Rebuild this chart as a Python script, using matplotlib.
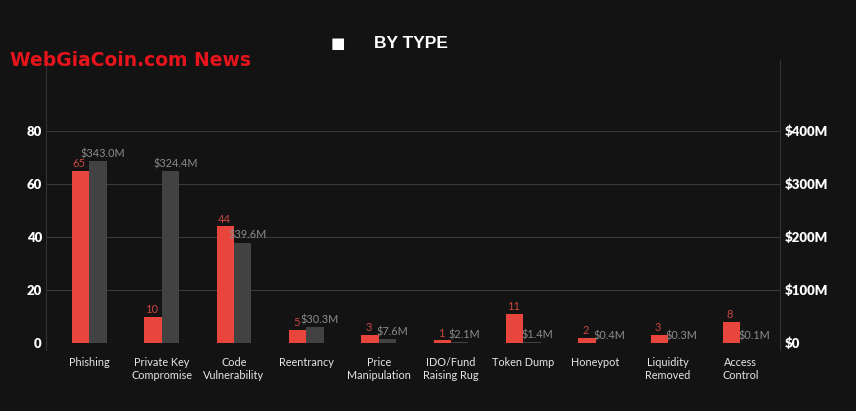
import numpy as np
import matplotlib.pyplot as plt
from matplotlib.lines import Line2D

# data
categories = ['Phishing', 'Private Key\nCompromise', 'Code\nVulnerability', 'Reentrancy',
              'Price\nManipulation', 'IDO/Fund\nRaising Rug', 'Token Dump', 'Honeypot',
              'Liquidity\nRemoved', 'Access\nControl']
counts = [65, 10, 44, 5, 3, 1, 11, 2, 3, 8]
amounts = [343.0, 324.4, 189.6, 30.3, 7.6, 2.1, 1.4, 0.4, 0.3, 0.1]
amount_labels = ['$343.0M', '$324.4M', '$39.6M', '$30.3M', '$7.6M',
                 '$2.1M', '$1.4M', '$0.4M', '$0.3M', '$0.1M']
left_ticks = [0, 20, 40, 60, 80]
right_ticks = [0, 100, 200, 300, 400]
right_tick_labels = ['$0', '$100M', '$200M', '$300M', '$400M']

BG = '#131313'
RED = '#e8453c'
GRAY = '#424242'

plt.rcParams['font.family'] = ['Lato', 'DejaVu Sans']

fig = plt.figure(figsize=(8.56, 4.11), dpi=100, facecolor=BG)
ax = fig.add_axes([46 / 856, 1 - 343 / 411, (780 - 46) / 856, (343 - 131) / 411])
ax.set_facecolor(BG)
ax2 = ax.twinx()

x = np.arange(len(categories))
w = 0.24
ax.bar(x - w / 2, counts, w, color=RED, zorder=3)
ax2.bar(x + w / 2, amounts, w, color=GRAY, zorder=3)

ax.set_xlim(-0.6, 9.55)
ax.set_ylim(0, 80)
ax2.set_ylim(0, 400)

for xi, c in zip(x, counts):
    ax.text(xi - w / 2 - 0.02, c + 0.6, str(c), ha='center', va='bottom', color='#c9473f',
            fontsize=8, zorder=5)
for xi, a, lab in zip(x, amounts, amount_labels):
    ax2.text(xi + w / 2 + 0.07, a + 3, lab, ha='center', va='bottom', color='#8c8c8c',
             fontsize=7.8, zorder=5)

ax.set_yticks(left_ticks)
ax.set_yticklabels([str(t) for t in left_ticks], color='white', fontsize=9.5, fontweight='heavy')
ax2.set_yticks(right_ticks)
ax2.set_yticklabels(right_tick_labels, color='white', fontsize=9.5, fontweight='heavy')
ax.set_xticks(x)
ax.set_xticklabels(categories, color='#e6e6e6', fontsize=7.8, linespacing=1.25)

ax.tick_params(axis='x', length=0, pad=10)
ax.tick_params(axis='y', length=0, pad=3)
ax2.tick_params(axis='y', length=0, pad=3.5)
ax.grid(axis='y', color='#3a3a3a', linewidth=0.8, zorder=0)
for a in (ax, ax2):
    for s in a.spines.values():
        s.set_visible(False)

# faint vertical frame lines
for fx in (46 / 856, 780 / 856):
    fig.add_artist(Line2D([fx, fx], [1 - 350 / 411, 1 - 60 / 411], color='#333333', linewidth=0.8))

# title with square marker
fig.text(338 / 856, 1 - 43 / 411, '\u25a0', color='white', fontsize=11, ha='center', va='center',
         family=['DejaVu Sans'])
fig.text(374 / 856, 1 - 43 / 411, 'BY TYPE', color='white', fontsize=12.5, fontweight='bold',
         ha='left', va='center', family=['Liberation Sans', 'DejaVu Sans'])

# watermark
fig.text(10 / 856, 1 - 61 / 411, 'WebGiaCoin.com News', color='#e8141c', fontsize=13.5,
         fontweight='bold', ha='left', va='center', family=['DejaVu Sans'])

fig.savefig('out.png', dpi=100, facecolor=BG)
